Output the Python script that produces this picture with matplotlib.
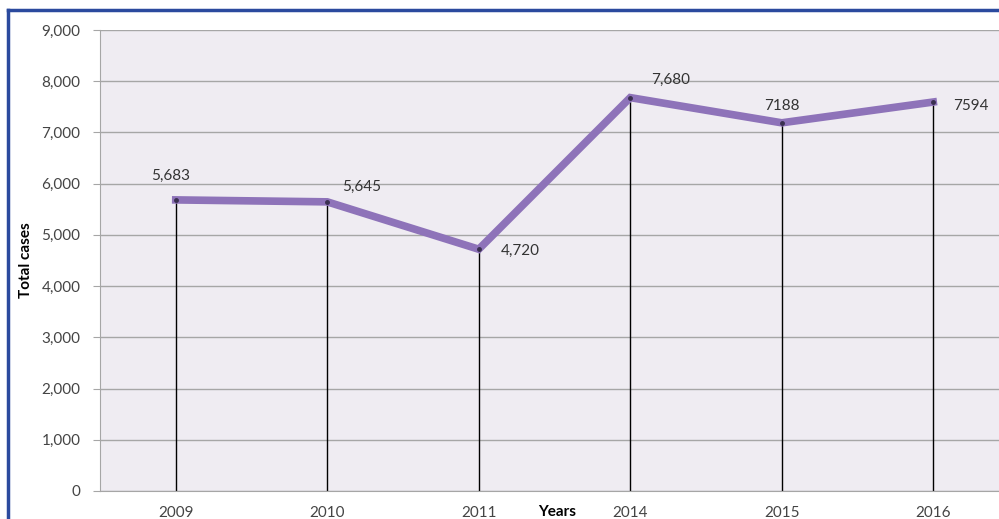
import matplotlib.pyplot as plt
from matplotlib.lines import Line2D
from matplotlib.ticker import FuncFormatter

years = ["2009", "2010", "2011", "2014", "2015", "2016"]
cases = [5683, 5645, 4720, 7680, 7188, 7594]
labels = ["5,683", "5,645", "4,720", "7,680", "7188", "7594"]
# label offsets in points (dx, dy)
offsets = [(-4, 17), (25, 11), (30, -1), (29, 13), (0, 12), (27, -3)]

plt.rcParams['font.family'] = ['Lato', 'DejaVu Sans']

fig = plt.figure(figsize=(9.99, 5.19), dpi=100)
ax = fig.add_axes([100 / 999, 1 - 491 / 519, 909 / 999, 461 / 519])
ax.set_facecolor('#efecf2')

x = list(range(len(years)))
ax.vlines(x, 0, cases, color='black', lw=1, zorder=2)
ax.plot(x, cases, color='#8e73b9', lw=5.5, solid_joinstyle='miter', zorder=3)
ax.plot(x, cases, 'o', color='#3a3050', ms=2.5, zorder=4)

for xi, v, lab, (dx, dy) in zip(x, cases, labels, offsets):
    ax.annotate(lab, (xi, v), xytext=(dx, dy), textcoords='offset points',
                ha='center', va='center', fontsize=11, color='#333333')

ax.set_xlim(-0.5, 5.5)
ax.set_ylim(0, 9000)
ax.set_yticks(range(0, 9001, 1000))
ax.yaxis.set_major_formatter(FuncFormatter(lambda v, p: f"{int(v):,}"))
ax.set_xticks(x)
ax.set_xticklabels(years)
ax.grid(axis='y', color='#a6a6a6', lw=1)
ax.set_axisbelow(True)
ax.tick_params(axis='y', length=5, color='#a6a6a6', labelsize=11,
               labelcolor='#444444', pad=9)
ax.tick_params(axis='x', length=0, labelsize=11, labelcolor='#444444', pad=11)
for s in ['top', 'right']:
    ax.spines[s].set_visible(False)
for s in ['left', 'bottom']:
    ax.spines[s].set_color('#a6a6a6')

ax.set_ylabel("Total cases", fontsize=11, fontweight='bold', labelpad=6)
fig.text(557 / 999, 1 - 512 / 519, "Years", fontsize=11, fontweight='bold',
         ha='center', va='center')

# blue frame on top and left
fig.add_artist(Line2D([8 / 999, 1], [1 - 10 / 519, 1 - 10 / 519],
                      transform=fig.transFigure, color='#2b4a9e', lw=2.5))
fig.add_artist(Line2D([8 / 999, 8 / 999], [0, 1 - 10 / 519],
                      transform=fig.transFigure, color='#2b4a9e', lw=2.5))

fig.savefig("out.png", dpi=100)
